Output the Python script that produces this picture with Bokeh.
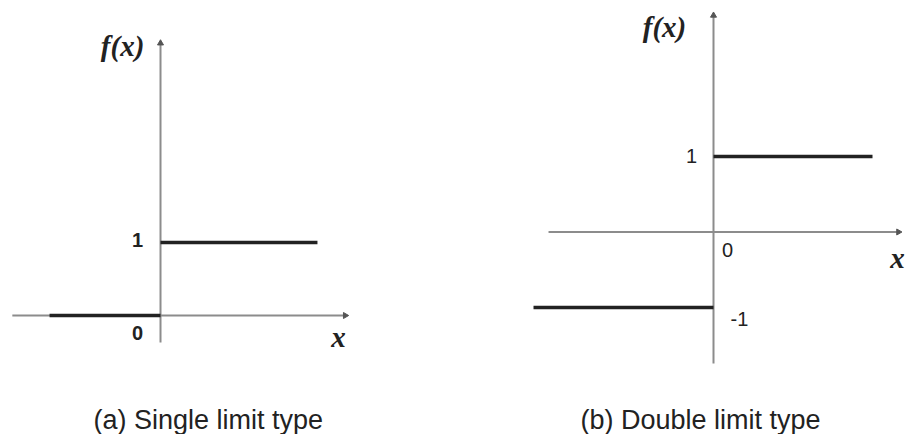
from bokeh.plotting import figure
from bokeh.layouts import row
from bokeh.models import Range1d, Label
from bokeh.embed import file_html
from bokeh.resources import INLINE
import math

# (a) single limit (unipolar step): f(x) = 0 for x < 0, 1 for x >= 0
a_neg_x = [-1.52, 0.0]
a_neg_y = [0.0, 0.0]
a_pos_x = [0.0, 2.15]
a_pos_y = [1.0, 1.0]
a_xaxis = [-2.03, 2.53]
a_yaxis = [-0.37, 3.73]
a_ticks = ["1", "0"]

# (b) double limit (bipolar step): f(x) = -1 for x < 0, 1 for x >= 0
b_neg_x = [-2.384, 0.0]
b_neg_y = [-1.0, -1.0]
b_pos_x = [0.0, 2.106]
b_pos_y = [1.0, 1.0]
b_xaxis = [-2.185, 2.45]
b_yaxis = [-1.742, 2.868]
b_ticks = ["1", "0", "-1"]

captions = ["(a) Single limit type", "(b) Double limit type"]

AXIS = "#8c8c8c"
STEP = "#222222"
TXT = "#222222"
SANS = "Liberation Sans"
SERIF = "Liberation Serif"


def panel(w, xr, yr):
    p = figure(width=w, height=434, x_range=Range1d(*xr), y_range=Range1d(*yr),
               x_axis_type=None, y_axis_type=None, toolbar_location=None,
               output_backend="svg", min_border=0, outline_line_color=None,
               background_fill_color="white", border_fill_color="white")
    p.grid.visible = False
    return p


def axes(p, xa, ya):
    p.line(xa, [0, 0], line_color=AXIS, line_width=2)
    p.line([0, 0], ya, line_color=AXIS, line_width=2)
    p.scatter([xa[1]], [0], marker="triangle", size=6, angle=-math.pi / 2,
              color="#555555")
    p.scatter([0], [ya[1]], marker="triangle", size=6, color="#555555")


def lab(p, x, y, t, font=SANS, size="20px", style="normal", align="center"):
    p.add_layout(Label(x=x, y=y, text=t, text_font=font, text_font_size=size,
                       text_font_style=style, text_color=TXT,
                       text_align=align, text_baseline="middle"))


def caption(p, x, t):
    p.add_layout(Label(x=x, y=15, x_units="screen", y_units="screen",
                       text=t, text_font=SANS, text_font_size="27px",
                       text_color=TXT, text_align="left", text_baseline="middle"))


# panel (a)
pa = panel(452, (-2.192, 4.0), (-1.630, 4.315))
axes(pa, a_xaxis, a_yaxis)
pa.line(a_neg_x, a_neg_y, line_color=STEP, line_width=3.5)
pa.line(a_pos_x, a_pos_y, line_color=STEP, line_width=3.5)
lab(pa, -0.315, 1.03, a_ticks[0], style="bold")
lab(pa, -0.315, -0.233, a_ticks[1], style="bold")
lab(pa, 2.44, -0.29, "x", font=SERIF, size="29px", style="bold italic")
lab(pa, -0.52, 3.685, "f(x)", font=SERIF, size="29px", style="bold italic")
caption(pa, 93, captions[0])

# panel (b)
pb = panel(453, (-3.457, 2.543), (-2.682, 3.066))
axes(pb, b_xaxis, b_yaxis)
pb.line(b_neg_x, b_neg_y, line_color=STEP, line_width=3.5)
pb.line(b_pos_x, b_pos_y, line_color=STEP, line_width=3.5)
lab(pb, -0.291, 1.013, b_ticks[0])
lab(pb, 0.185, -0.245, b_ticks[1])
lab(pb, 0.344, -1.146, b_ticks[2])
lab(pb, 2.437, -0.351, "x", font=SERIF, size="29px", style="bold italic")
lab(pb, -0.649, 2.709, "f(x)", font=SERIF, size="29px", style="bold italic")
caption(pb, 128, captions[1])

layout = row(pa, pb, spacing=0)
open("out.html", "w").write(file_html(layout, INLINE))
